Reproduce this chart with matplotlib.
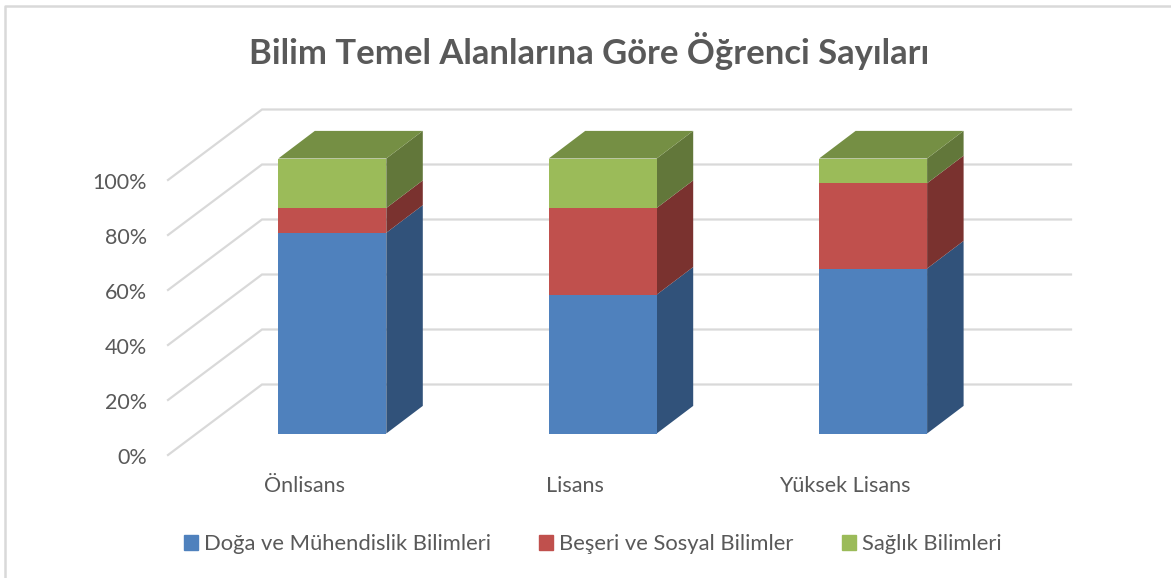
import matplotlib.pyplot as plt
from matplotlib.patches import Patch, Polygon

plt.rcParams['font.family'] = ['Lato', 'DejaVu Sans']

categories = ['Önlisans', 'Lisans', 'Yüksek Lisans']
series_names = ['Doğa ve Mühendislik Bilimleri', 'Beşeri ve Sosyal Bilimler', 'Sağlık Bilimleri']
doga = [73, 50.5, 60]
beseri = [9, 31.5, 31]
saglik = [18, 18, 9]
y_ticks = [0, 20, 40, 60, 80, 100]

front_colors = ['#4f81bd', '#c0504d', '#9bbb59']
side_colors = ['#31527a', '#7a322f', '#62773a']
top_color = '#758f44'
grid_color = '#d9d9d9'
text_color = '#595959'

W, H = 1171, 578
per_cat = 270.4   # px between categories
per_pct = 2.75    # px for 1 %
cat0_px = 332.3
zero_px = 433.5

fig = plt.figure(figsize=(W / 100, H / 100), dpi=100)
ax = fig.add_axes([0, 0, 1, 1])
ax.set_xlim(-cat0_px / per_cat, (W - cat0_px) / per_cat)
ax.set_ylim((zero_px - H) / per_pct, zero_px / per_pct)
ax.axis('off')

bar_w = 108 / per_cat
bar_dx = 36.5 / per_cat
bar_dy = 27.6 / per_pct

# floor / wall corners, relative to the bars' front plane
wall_left = (168 - cat0_px) / per_cat
wall_dx = 94 / per_cat
wall_dy = 70.5 / per_pct
wall_right = (1071 - cat0_px) / per_cat
floor_y = (zero_px - 455) / per_pct

for v in y_ticks:
    y = floor_y + v
    ax.plot([wall_left, wall_left + wall_dx, wall_right], [y, y + wall_dy, y + wall_dy],
            color=grid_color, lw=1.6, zorder=1, solid_joinstyle='miter')
    ax.text(wall_left - 21 / per_cat, y - 3 / per_pct, str(v) + '%', ha='right', va='center',
            fontsize=15.5, color=text_color)

for i, cat in enumerate(categories):
    left = i - bar_w / 2
    right = i + bar_w / 2
    base = 0
    for vals, fc, sc in zip([doga, beseri, saglik], front_colors, side_colors):
        top = base + vals[i]
        ax.add_patch(Polygon([(right, base), (right + bar_dx, base + bar_dy),
                              (right + bar_dx, top + bar_dy), (right, top)],
                             facecolor=sc, edgecolor='none', zorder=2))
        ax.bar(i, vals[i], bottom=base, width=bar_w, color=fc, zorder=3)
        base = top
    ax.add_patch(Polygon([(left, base), (right, base), (right + bar_dx, base + bar_dy),
                          (left + bar_dx, base + bar_dy)],
                         facecolor=top_color, edgecolor='none', zorder=2))
    ax.text(i - 28 / per_cat, floor_y - 31 / per_pct, cat, ha='center', va='center',
            fontsize=15.5, color=text_color)

ax.text((589.5 - cat0_px) / per_cat, (zero_px - 51.5) / per_pct, 'Bilim Temel Alanlarına Göre Öğrenci Sayıları',
        ha='center', va='center', fontsize=24.9, fontweight='bold', color=text_color)

handles = [Patch(color=c, label=n) for c, n in zip(front_colors, series_names)]
ax.legend(handles=handles, loc='center', bbox_to_anchor=(592.5 / W, 1 - 544 / H), ncol=3,
          frameon=False, fontsize=15.8, labelcolor=text_color, handlelength=0.64,
          handleheight=0.64, handletextpad=0.27, columnspacing=2.2)

# chart border, only top and left show in the screenshot
ax.plot([4.5 / W, 4.5 / W, 1], [0, 1 - 5.5 / H, 1 - 5.5 / H], transform=ax.transAxes,
        color=grid_color, lw=1.8, clip_on=False)

fig.savefig('out.png', dpi=100)
